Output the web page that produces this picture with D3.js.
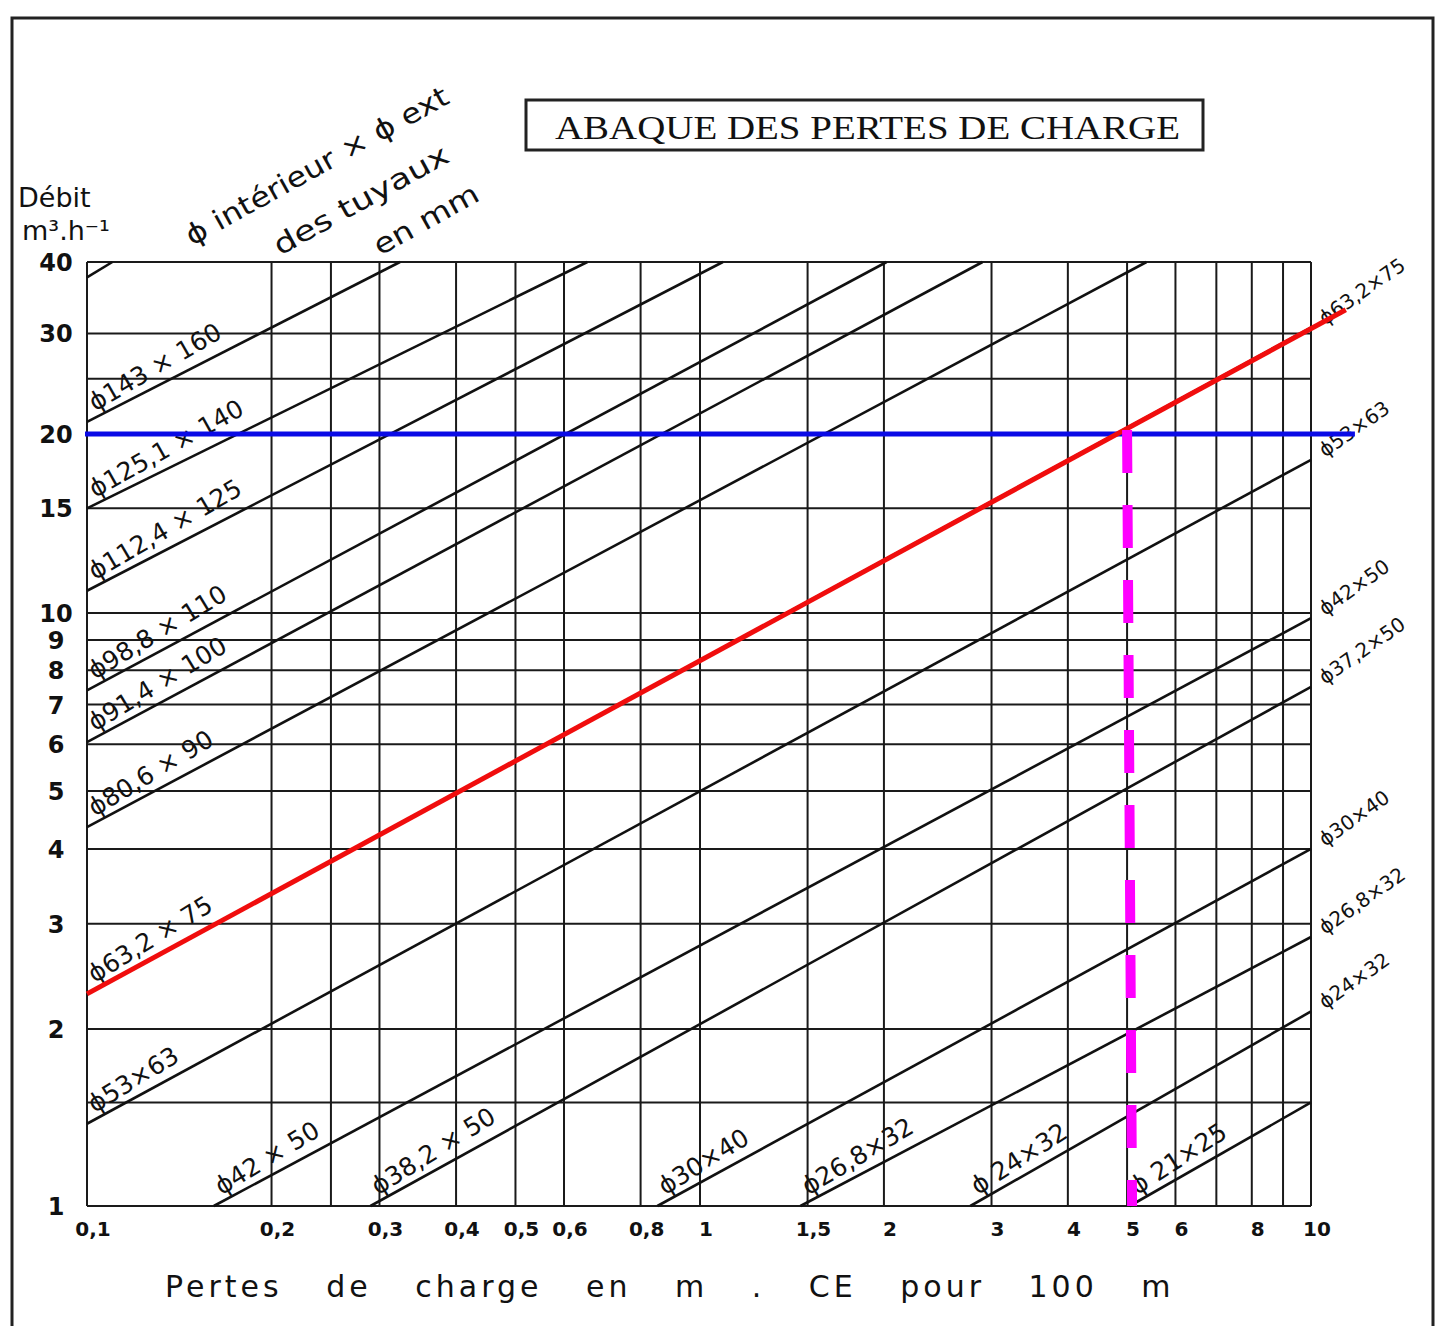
<!DOCTYPE html>
<html>
<head>
<meta charset="utf-8">
<script src="https://cdn.jsdelivr.net/npm/d3@7"></script>
<style>
  body { margin: 0; background: #fff; }
  svg { display: block; }
  text { font-family: "DejaVu Sans", sans-serif; fill: #111; }
</style>
</head>
<body>
<div class="graphContainer"></div>
<script>
var width = 1440;
var height = 1326;

// axes
var flowTicks = [1, 2, 3, 4, 5, 6, 7, 8, 9, 10, 15, 20, 30, 40];
var flowGrid = [1, 1.5, 2, 3, 4, 5, 6, 7, 8, 9, 10, 15, 20, 25, 30, 40];
var lossTicks = [0.1, 0.2, 0.3, 0.4, 0.5, 0.6, 0.8, 1, 1.5, 2, 3, 4, 5, 6, 8, 10];
var lossTickLabels = ["0,1", "0,2", "0,3", "0,4", "0,5", "0,6", "0,8", "1", "1,5", "2", "3", "4", "5", "6", "8", "10"];
var lossGrid = [0.1, 0.2, 0.25, 0.3, 0.4, 0.5, 0.6, 0.8, 1, 1.5, 2, 3, 4, 5, 6, 7, 8, 9, 10];

// pipe lines : start and end point (perte de charge, debit)
var pipeNames = ["", "ϕ143 × 160", "ϕ125,1 × 140", "ϕ112,4 × 125", "ϕ98,8 × 110", "ϕ91,4 × 100",
  "ϕ80,6 × 90", "ϕ63,2 × 75", "ϕ53×63", "ϕ42 × 50", "ϕ38,2 × 50", "ϕ30×40", "ϕ26,8×32", "ϕ 24×32", "ϕ 21×25"];
var rightNames = ["", "", "", "", "", "", "", "ϕ63,2×75", "ϕ53×63", "ϕ42×50", "ϕ37,2×50", "ϕ30×40", "ϕ26,8×32", "ϕ24×32", ""];
var startLoss = [0.1, 0.1, 0.1, 0.1, 0.1, 0.1, 0.1, 0.1, 0.1, 0.161, 0.29, 0.852, 1.46, 2.77, 5.05];
var startFlow = [37.6, 21.0, 15.0, 10.9, 7.4, 6.05, 4.35, 2.29, 1.38, 1, 1, 1, 1, 1, 1];
var endLoss = [0.11, 0.324, 0.655, 1.09, 2.02, 2.9, 5.38, 10, 10, 10, 10, 10, 10, 10, 10];
var endFlow = [40, 40, 40, 40, 40, 40, 40, 30.7, 18.1, 9.8, 7.5, 4.0, 2.85, 2.14, 1.5];

// reading example drawn over the chart
var readFlow = 20;
var readLoss = 5;
var readStart = [0.1, 2.29];
var readEnd = [11.4, 33];
var blueEndLoss = 11.8;

var svg = d3.select(".graphContainer")
  .append("svg")
  .attr("width", width)
  .attr("height", height);

svg.append("rect").attr("width", width).attr("height", height).attr("fill", "#fff");

// hand drawn grid is not quite regular, so piecewise log scales
var x = d3.scaleLog().domain([0.1, 1, 10]).range([87, 700, 1311]);
var y = d3.scaleLog().domain([1, 2, 5, 10, 20, 40]).range([1206, 1029, 791, 613, 434, 262]);

// page border
svg.append("path")
  .attr("d", "M12,1326 L12,18 L1433,18 L1433,1326")
  .attr("fill", "none").attr("stroke", "#222").attr("stroke-width", 3);

// grid
var grid = svg.append("g").attr("stroke", "#1a1a1a").attr("stroke-width", 2);
grid.selectAll("line.h").data(flowGrid).enter().append("line")
  .attr("class", "h")
  .attr("x1", x(0.1)).attr("x2", x(10))
  .attr("y1", function (d) { return y(d); }).attr("y2", function (d) { return y(d); });
grid.selectAll("line.v").data(lossGrid).enter().append("line")
  .attr("class", "v")
  .attr("x1", function (d) { return x(d); }).attr("x2", function (d) { return x(d); })
  .attr("y1", y(40)).attr("y2", y(1));

// pipe lines
var pipes = pipeNames.map(function (n, i) {
  var x1 = x(startLoss[i]), y1 = y(startFlow[i]), x2 = x(endLoss[i]), y2 = y(endFlow[i]);
  return { name: n, right: rightNames[i], x1: x1, y1: y1, x2: x2, y2: y2,
    angle: Math.atan2(y2 - y1, x2 - x1) * 180 / Math.PI };
});

svg.append("g").selectAll("line").data(pipes).enter().append("line")
  .attr("x1", function (d) { return d.x1; }).attr("y1", function (d) { return d.y1; })
  .attr("x2", function (d) { return d.x2; }).attr("y2", function (d) { return d.y2; })
  .attr("stroke", "#111").attr("stroke-width", 2.6);

// labels along the lines
svg.append("g").selectAll("text").data(pipes.filter(function (d) { return d.name; })).enter()
  .append("text")
  .attr("transform", function (d) { return "translate(" + d.x1 + "," + d.y1 + ") rotate(" + (d.angle - 3) + ")"; })
  .attr("x", 12).attr("y", -5)
  .style("font-size", "25px")
  .text(function (d) { return d.name; });

svg.append("g").selectAll("text").data(pipes.filter(function (d) { return d.right; })).enter()
  .append("text")
  .attr("transform", function (d) { return "translate(" + (d.x2 + 14) + "," + (d.y2 - 2) + ") rotate(-35)"; })
  .style("font-size", "20px")
  .text(function (d) { return d.right; });

// y tick labels
svg.append("g").selectAll("text").data(flowTicks).enter().append("text")
  .attr("x", 56).attr("y", function (d) { return y(d) + 9; })
  .attr("text-anchor", "middle")
  .style("font-size", "24px").style("font-weight", "bold")
  .text(function (d) { return d; });

// x tick labels
svg.append("g").selectAll("text").data(lossTicks).enter().append("text")
  .attr("x", function (d) { return x(d) + 6; }).attr("y", 1236)
  .attr("text-anchor", "middle")
  .style("font-size", "20px").style("font-weight", "bold")
  .text(function (d, i) { return lossTickLabels[i]; });

// axis titles
svg.append("text").attr("x", 165).attr("y", 1297)
  .style("font-size", "30px").style("letter-spacing", "4px").style("word-spacing", "30px")
  .text("Pertes de charge en m . CE pour 100 m");

svg.append("text").attr("x", 18).attr("y", 207).style("font-size", "27px").text("Débit");
svg.append("text").attr("x", 22).attr("y", 240).style("font-size", "27px").text("m³.h⁻¹");

var head = svg.append("g").style("font-size", "28px");
head.append("text").attr("transform", "translate(192,246) rotate(-29)")
  .attr("textLength", 296).attr("lengthAdjust", "spacingAndGlyphs").text("ϕ intérieur × ϕ ext");
head.append("text").attr("transform", "translate(280,256) rotate(-29)")
  .attr("textLength", 196).attr("lengthAdjust", "spacingAndGlyphs").text("des tuyaux");
head.append("text").attr("transform", "translate(380,256) rotate(-29)")
  .attr("textLength", 116).attr("lengthAdjust", "spacingAndGlyphs").text("en mm");

// title box
svg.append("rect").attr("x", 526).attr("y", 100).attr("width", 677).attr("height", 50)
  .attr("fill", "none").attr("stroke", "#222").attr("stroke-width", 3);
svg.append("text").attr("x", 555).attr("y", 139)
  .attr("textLength", 625).attr("lengthAdjust", "spacingAndGlyphs")
  .style("font-family", "'Liberation Serif', serif").style("font-size", "34px")
  .text("ABAQUE DES PERTES DE CHARGE");

// reading overlay
svg.append("line")
  .attr("x1", x(0.1) - 2).attr("x2", x(blueEndLoss))
  .attr("y1", y(readFlow)).attr("y2", y(readFlow))
  .attr("stroke", "#0a0ae6").attr("stroke-width", 5);
svg.append("line")
  .attr("x1", x(readStart[0])).attr("y1", y(readStart[1]))
  .attr("x2", x(readEnd[0])).attr("y2", y(readEnd[1]))
  .attr("stroke", "#f00d0d").attr("stroke-width", 5);
svg.append("line")
  .attr("x1", x(readLoss)).attr("x2", x(readLoss) + 5)
  .attr("y1", y(readFlow) - 4).attr("y2", y(1))
  .attr("stroke", "#ff00ff").attr("stroke-width", 10)
  .attr("stroke-dasharray", "43,32");
</script>
</body>
</html>
